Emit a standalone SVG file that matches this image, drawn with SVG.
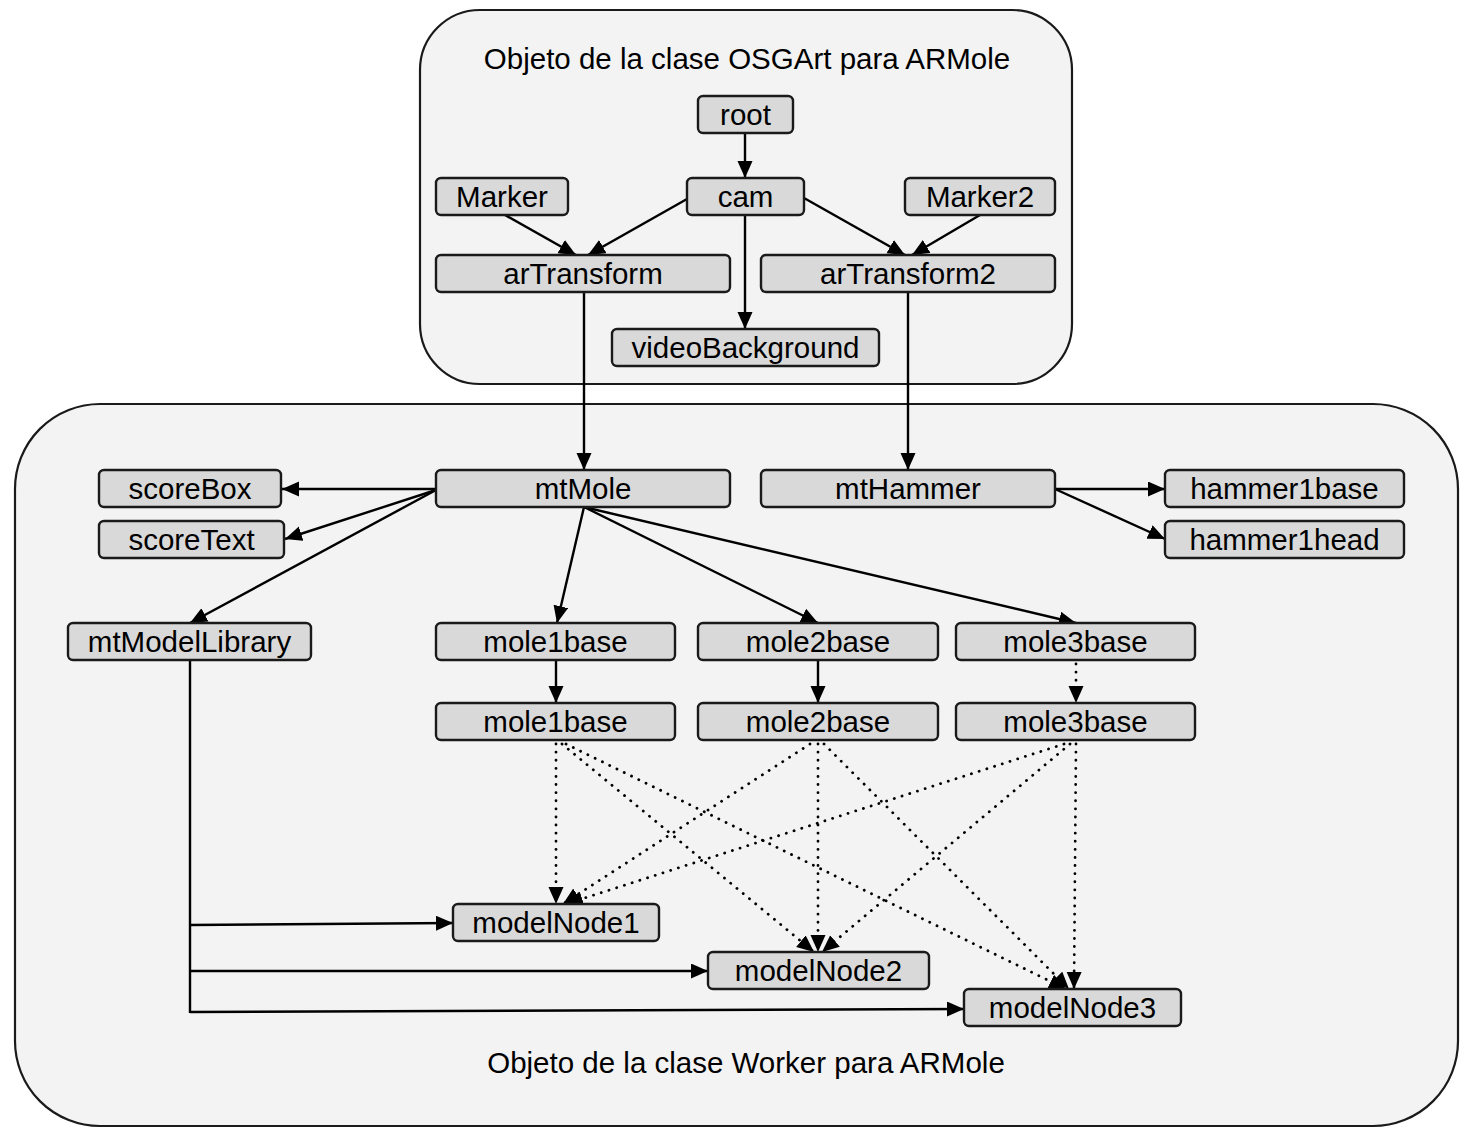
<svg xmlns="http://www.w3.org/2000/svg" width="1460" height="1128" viewBox="0 0 1460 1128">
<defs>
<marker id="ah" markerUnits="userSpaceOnUse" markerWidth="18" markerHeight="16" refX="17" refY="7.5" orient="auto">
<path d="M0,0 L17,7.5 L0,15 z" fill="#000"/>
</marker>
<style>
.cont{fill:#f3f3f3;stroke:#1a1a1a;stroke-width:2.2}
.node rect{fill:#d9d9d9;stroke:#1a1a1a;stroke-width:2.4}
text{font-family:"Liberation Sans",Arial,sans-serif;font-size:29.5px;fill:#000;text-anchor:middle}
.title{font-size:29.5px}
.e{stroke:#000;stroke-width:2.4;fill:none;marker-end:url(#ah)}
.d{stroke:#000;stroke-width:2.8;fill:none;stroke-dasharray:0.1 8;stroke-linecap:round;marker-end:url(#ah)}
.p{stroke:#000;stroke-width:2.4;fill:none}
</style>
</defs>
<rect width="1460" height="1128" fill="#fff"/>
<g id="osgart">
<rect class="cont" x="420" y="10" width="652" height="374" rx="60"/>
<text class="title" x="747" y="69">Objeto de la clase OSGArt para ARMole</text>
</g>
<g id="worker">
<rect class="cont" x="15" y="404" width="1443" height="722" rx="85"/>
<text class="title" x="746" y="1073">Objeto de la clase Worker para ARMole</text>
</g>
<g id="connectors">
<line class="e" x1="745" y1="133" x2="745" y2="178"/>
<line class="e" x1="687" y1="199" x2="588" y2="255"/>
<line class="e" x1="505" y1="215" x2="576" y2="255"/>
<line class="e" x1="804" y1="198" x2="905" y2="255"/>
<line class="e" x1="980" y1="215" x2="912" y2="255"/>
<line class="e" x1="745" y1="215" x2="745" y2="329"/>
<line class="e" x1="584" y1="292" x2="584" y2="470"/>
<line class="e" x1="908" y1="292" x2="908" y2="470"/>
<line class="e" x1="436" y1="489" x2="282" y2="489"/>
<line class="e" x1="436" y1="490" x2="285" y2="539"/>
<line class="e" x1="436" y1="490" x2="190" y2="623"/>
<line class="e" x1="584" y1="507" x2="557" y2="623"/>
<line class="e" x1="584" y1="507" x2="818" y2="623"/>
<line class="e" x1="584" y1="507" x2="1076" y2="623"/>
<line class="e" x1="1055" y1="489" x2="1165" y2="489"/>
<line class="e" x1="1055" y1="489" x2="1165" y2="539"/>
<line class="e" x1="556" y1="660" x2="556" y2="703"/>
<line class="e" x1="818" y1="660" x2="818" y2="703"/>
<line class="d" x1="1076" y1="664" x2="1076" y2="703"/>
<line class="p" x1="190" y1="660" x2="190" y2="1013"/>
<line class="e" x1="190" y1="925" x2="453" y2="923"/>
<line class="e" x1="190" y1="971" x2="708" y2="971"/>
<line class="e" x1="190" y1="1012" x2="964" y2="1009"/>
<line class="d" x1="556" y1="744" x2="556" y2="904"/>
<line class="d" x1="562" y1="744" x2="814" y2="952"/>
<line class="d" x1="566" y1="744" x2="1066" y2="989"/>
<line class="d" x1="810" y1="744" x2="563" y2="904"/>
<line class="d" x1="818" y1="744" x2="818" y2="952"/>
<line class="d" x1="824" y1="744" x2="1069" y2="989"/>
<line class="d" x1="1064" y1="744" x2="566" y2="904"/>
<line class="d" x1="1070" y1="744" x2="822" y2="952"/>
<line class="d" x1="1076" y1="744" x2="1074" y2="989"/>
</g>
<g id="root" class="node"><rect x="698" y="96" width="95" height="37" rx="5"/><text x="745.5" y="125">root</text></g>
<g id="Marker" class="node"><rect x="436" y="178" width="132" height="37" rx="5"/><text x="502" y="207">Marker</text></g>
<g id="cam" class="node"><rect x="687" y="178" width="117" height="37" rx="5"/><text x="745.5" y="207">cam</text></g>
<g id="Marker2" class="node"><rect x="905" y="178" width="150" height="37" rx="5"/><text x="980" y="207">Marker2</text></g>
<g id="arTransform" class="node"><rect x="436" y="255" width="294" height="37" rx="5"/><text x="583" y="284">arTransform</text></g>
<g id="arTransform2" class="node"><rect x="761" y="255" width="294" height="37" rx="5"/><text x="908" y="284">arTransform2</text></g>
<g id="videoBackground" class="node"><rect x="612" y="329" width="267" height="37" rx="5"/><text x="745.5" y="358">videoBackground</text></g>
<g id="scoreBox" class="node"><rect x="99" y="470" width="182" height="37" rx="5"/><text x="190" y="499">scoreBox</text></g>
<g id="scoreText" class="node"><rect x="99" y="521" width="185" height="37" rx="5"/><text x="191.5" y="550">scoreText</text></g>
<g id="mtMole" class="node"><rect x="436" y="470" width="294" height="37" rx="5"/><text x="583" y="499">mtMole</text></g>
<g id="mtHammer" class="node"><rect x="761" y="470" width="294" height="37" rx="5"/><text x="908" y="499">mtHammer</text></g>
<g id="hammer1base" class="node"><rect x="1165" y="470" width="239" height="37" rx="5"/><text x="1284.5" y="499">hammer1base</text></g>
<g id="hammer1head" class="node"><rect x="1165" y="521" width="239" height="37" rx="5"/><text x="1284.5" y="550">hammer1head</text></g>
<g id="mtModelLibrary" class="node"><rect x="68" y="623" width="243" height="37" rx="5"/><text x="189.5" y="652">mtModelLibrary</text></g>
<g id="mole1base" class="node"><rect x="436" y="623" width="239" height="37" rx="5"/><text x="555.5" y="652">mole1base</text></g>
<g id="mole2base" class="node"><rect x="698" y="623" width="240" height="37" rx="5"/><text x="818" y="652">mole2base</text></g>
<g id="mole3base" class="node"><rect x="956" y="623" width="239" height="37" rx="5"/><text x="1075.5" y="652">mole3base</text></g>
<g id="mole1base_2" class="node"><rect x="436" y="703" width="239" height="37" rx="5"/><text x="555.5" y="732">mole1base</text></g>
<g id="mole2base_2" class="node"><rect x="698" y="703" width="240" height="37" rx="5"/><text x="818" y="732">mole2base</text></g>
<g id="mole3base_2" class="node"><rect x="956" y="703" width="239" height="37" rx="5"/><text x="1075.5" y="732">mole3base</text></g>
<g id="modelNode1" class="node"><rect x="453" y="904" width="206" height="37" rx="5"/><text x="556" y="933">modelNode1</text></g>
<g id="modelNode2" class="node"><rect x="708" y="952" width="221" height="37" rx="5"/><text x="818.5" y="981">modelNode2</text></g>
<g id="modelNode3" class="node"><rect x="964" y="989" width="217" height="37" rx="5"/><text x="1072.5" y="1018">modelNode3</text></g>
</svg>
